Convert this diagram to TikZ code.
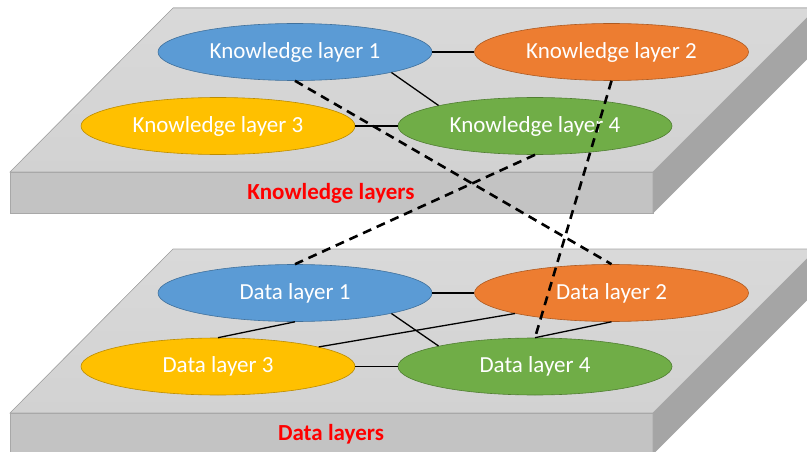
\documentclass[tikz,border=0pt]{standalone}
\usepackage{fontspec}
\setmainfont{Carlito}
\usetikzlibrary{shapes.geometric}
\definecolor{topface}{HTML}{D9D9D9}
\definecolor{topfaceb}{HTML}{D2D2D2}
\definecolor{frontface}{HTML}{C3C3C3}
\definecolor{sideface}{HTML}{A5A5A5}
\definecolor{slabedge}{HTML}{A8A8A8}
\definecolor{eblue}{HTML}{5B9BD5}
\definecolor{eblueb}{HTML}{41719C}
\definecolor{eorange}{HTML}{ED7D31}
\definecolor{eorangeb}{HTML}{AE5A21}
\definecolor{eyellow}{HTML}{FFC000}
\definecolor{eyellowb}{HTML}{BC8C00}
\definecolor{egreen}{HTML}{70AD47}
\definecolor{egreenb}{HTML}{507E32}
\tikzset{
  ell/.style={ellipse, minimum width=274pt, minimum height=57pt, inner sep=0pt,
    text=white, font=\fontsize{23}{27}\selectfont, line width=0.6pt},
  eb/.style={ell, fill=eblue, draw=eblueb},
  eo/.style={ell, fill=eorange, draw=eorangeb},
  ey/.style={ell, fill=eyellow, draw=eyellowb},
  eg/.style={ell, fill=egreen, draw=egreenb},
  link/.style={draw=black, line width=1.3pt},
  cross/.style={draw=black, line width=2.6pt, dash pattern=on 9pt off 6pt},
  slabname/.style={text=red, font=\fontsize{23}{27}\selectfont\bfseries},
}
\begin{document}
\begin{tikzpicture}[x=1pt,y=-1pt]
\useasboundingbox (0,0) rectangle (807,452);
% slabs
\foreach \oy in {0,241}{
  \fill[top color=topface, bottom color=topfaceb, draw=slabedge, line width=0.6pt]
    (173,8+\oy) -- (817,8+\oy) -- (653,172+\oy) -- (10,172+\oy) -- cycle;
  \fill[frontface, draw=slabedge, line width=0.6pt]
    (10,172+\oy) -- (653,172+\oy) -- (653,213+\oy) -- (10,213+\oy) -- cycle;
  \fill[sideface, draw=slabedge, line width=0.6pt]
    (653,172+\oy) -- (817,8+\oy) -- (817,49+\oy) -- (653,213+\oy) -- cycle;
}
% nodes
\node[eb] (k1) at (295,52) {Knowledge layer 1};
\node[eo] (k2) at (611.5,52) {Knowledge layer 2};
\node[ey] (k3) at (218,126) {Knowledge layer 3};
\node[eg] (k4) at (535,126) {Knowledge layer 4};
\node[eb] (d1) at (295,293) {Data layer 1};
\node[eo] (d2) at (611.5,293) {Data layer 2};
\node[ey] (d3) at (218,366.5) {Data layer 3};
\node[eg] (d4) at (535,366.5) {Data layer 4};
% solid links
\draw[link] (k1.east) -- (k2.west);
\draw[link] (k1.-12) -- (k4.168);
\draw[link] (k3.east) -- (k4.west);
\draw[link] (d1.east) -- (d2.west);
\draw[link] (d1.south) -- (d3.north);
\draw[link] (d1.-12) -- (d4.168);
\draw[link] (d3.11) -- (d2.192);
\draw[link] (d3.east) -- (d4.west);
\draw[link] (d2.south) -- (d4.north);
% dashed cross-layer links
\draw[cross] (k1.south) -- (d2.north);
\draw[cross] (k4.south) -- (d1.north);
\draw[cross] (k2.south) -- (d4.north);
% slab labels
\node[slabname] (kl) at (331,193) {Knowledge layers};
\node[slabname] (dl) at (331,434) {Data layers};
\end{tikzpicture}
\end{document}
